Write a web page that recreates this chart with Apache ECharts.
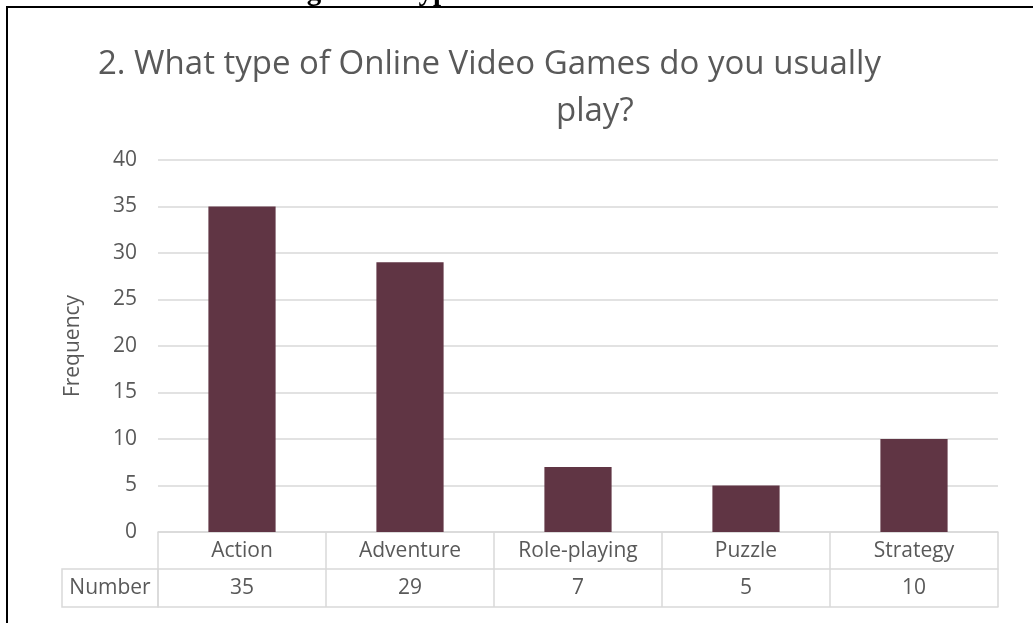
<!DOCTYPE html>
<html>
<head>
<meta charset="utf-8">
<script src="https://cdn.jsdelivr.net/npm/echarts@6/dist/echarts.min.js"></script>
<style>
  html, body { margin: 0; padding: 0; background: #ffffff; }
  #chart { width: 1033px; height: 623px; }
</style>
</head>
<body>
<div id="chart"></div>
<script>
// Survey answers: type of online video game usually played
const categories = ['Action', 'Adventure', 'Role-playing', 'Puzzle', 'Strategy'];
const frequency = [35, 29, 7, 5, 10];

// Value axis range
const yMin = 0;
const yMax = 40;
const yStep = 5;

// Texts
const caption = 'Figure 3: Types of Online Video Games';
const titleLine1 = '2. What type of Online Video Games do you usually';
const titleLine2 = 'play?';
const yAxisName = 'Frequency';
const tableRowName = 'Number';

const FONT = "'Open Sans', 'Noto Sans', sans-serif";
const TEXT = '#595959';
const RULE = '#d9d9d9';
const BAR = '#603544';

const chart = echarts.init(document.getElementById('chart'), null, { renderer: 'canvas' });

const labelStyle = { fontFamily: FONT, fontSize: 21, color: TEXT };

chart.setOption({
  backgroundColor: '#ffffff',
  animation: false,
  title: [
    {
      text: titleLine1, left: 98, top: 48, padding: 0,
      textStyle: { fontFamily: FONT, fontSize: 33, fontWeight: 'normal', color: TEXT }
    },
    {
      text: titleLine2, left: 556, top: 95, padding: 0,
      textStyle: { fontFamily: FONT, fontSize: 33, fontWeight: 'normal', color: TEXT }
    }
  ],
  grid: { left: 158, right: 35, top: 160, bottom: 91, containLabel: false },
  xAxis: [
    {
      // category row of the data table
      type: 'category',
      data: categories,
      position: 'bottom',
      axisLine: { show: true, lineStyle: { color: RULE, width: 1.5 } },
      axisTick: { show: true, length: 75, lineStyle: { color: RULE, width: 1.5 } },
      axisLabel: Object.assign({ interval: 0, margin: 19, verticalAlign: 'middle' }, labelStyle),
      splitLine: { show: false }
    },
    {
      // value row of the data table
      type: 'category',
      data: frequency.map(String),
      position: 'bottom',
      offset: 37,
      axisLine: { show: true, lineStyle: { color: RULE, width: 1.5 } },
      axisTick: { show: false },
      axisLabel: Object.assign({ interval: 0, margin: 19, verticalAlign: 'middle' }, labelStyle),
      splitLine: { show: false }
    },
    {
      // closing rule under the table
      type: 'category',
      data: categories,
      position: 'bottom',
      offset: 75,
      axisLine: { show: true, lineStyle: { color: RULE, width: 1.5 } },
      axisTick: { show: false },
      axisLabel: { show: false },
      splitLine: { show: false }
    }
  ],
  yAxis: {
    type: 'value',
    min: yMin,
    max: yMax,
    interval: yStep,
    axisLine: { show: false },
    axisTick: { show: false },
    axisLabel: Object.assign({ margin: 21 }, labelStyle),
    splitLine: { show: true, lineStyle: { color: RULE, width: 1.5 } },
    name: yAxisName,
    nameLocation: 'middle',
    nameRotate: 90,
    nameGap: 74,
    nameTextStyle: labelStyle
  },
  series: [
    {
      type: 'bar',
      data: frequency,
      xAxisIndex: 0,
      yAxisIndex: 0,
      barWidth: '40%',
      itemStyle: { color: BAR },
      silent: true
    }
  ],
  graphic: [
    {
      // page caption above the chart frame
      type: 'text',
      x: 524, y: -7.5,
      style: {
        text: caption,
        fontFamily: "'Liberation Serif', 'DejaVu Serif', serif",
        fontWeight: 'bold',
        fontSize: 29,
        fill: '#000000',
        align: 'center',
        verticalAlign: 'middle'
      }
    },
    {
      // chart frame
      type: 'rect',
      shape: { x: 7, y: 7, width: 1200, height: 800 },
      style: { fill: 'none', stroke: '#000000', lineWidth: 2 }
    },
    {
      // row header cell of the data table
      type: 'group',
      children: [
        {
          type: 'rect',
          shape: { x: 62, y: 569, width: 96, height: 38 },
          style: { fill: 'none', stroke: RULE, lineWidth: 1.5 }
        },
        {
          type: 'text',
          x: 110, y: 588,
          style: {
            text: tableRowName,
            fontFamily: FONT, fontSize: 21, fill: TEXT,
            align: 'center', verticalAlign: 'middle'
          }
        }
      ]
    }
  ]
});
</script>
</body>
</html>
